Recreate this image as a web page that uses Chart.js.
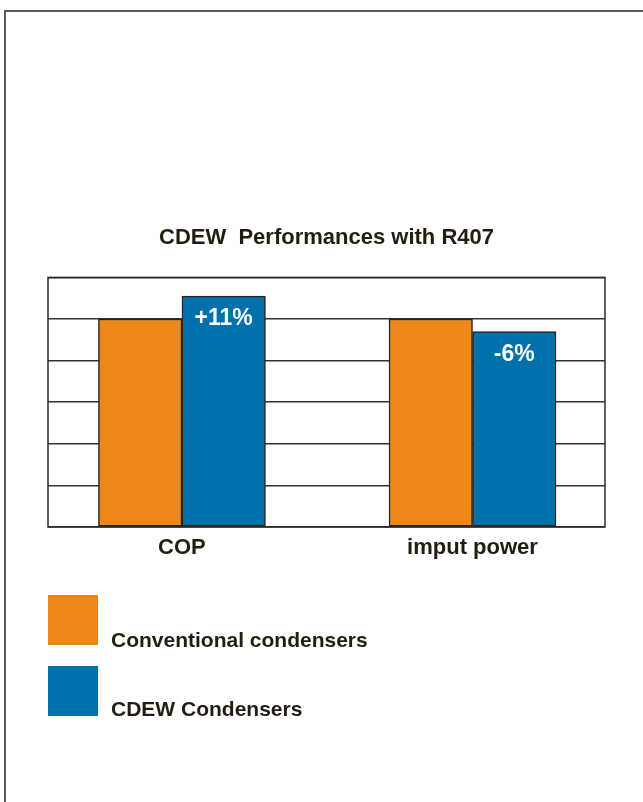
<!DOCTYPE html>
<html>
<head>
<meta charset="utf-8">
<script src="https://cdn.jsdelivr.net/npm/chart.js@4/dist/chart.umd.min.js"></script>
<style>
  html, body { margin: 0; padding: 0; background: #fff; }
  body { width: 643px; height: 802px; position: relative; overflow: hidden; font-family: "Liberation Sans", Arial, sans-serif; }
  .frame { position: absolute; left: 4px; top: 10px; width: 700px; height: 900px; border-left: 2px solid #5c5c5c; border-top: 2px solid #5c5c5c; }
  #chart { position: absolute; left: 0; top: 0; }
  .legend-item { position: absolute; left: 48px; height: 50px; }
  .legend-item .box { position: absolute; left: 0; top: 0; width: 50px; height: 50px; }
  .legend-item .label { position: absolute; left: 63px; white-space: nowrap; font-weight: bold; font-size: 21px; color: #221d0e; }
</style>
</head>
<body>
<div class="frame"></div>
<canvas id="chart" width="643" height="802"></canvas>
<div id="legend"></div>
<script>
const categories = ['COP', 'imput power'];
const seriesNames = ['Conventional condensers', 'CDEW Condensers'];
const conventional = [100, 100];
const cdew = [111, 94];
const cdewLabels = ['+11%', '-6%'];
const yTicks = [0, 20, 40, 60, 80, 100, 120];
const colors = ['#ED8818', '#0071AA'];
const textColor = '#221d0e';
const fontFamily = '"Liberation Sans", Arial, sans-serif';

document.addEventListener('DOMContentLoaded', function () {
  const legend = document.getElementById('legend');
  seriesNames.forEach((name, i) => {
    const item = document.createElement('div');
    item.className = 'legend-item';
    item.style.top = (595 + i * 71) + 'px';
    item.innerHTML = '<div class="box" style="background:' + colors[i] + '"></div>' +
      '<div class="label" style="top:' + (33 - i * 2) + 'px">' + name + '</div>';
    legend.appendChild(item);
  });

  const frameBox = {
    id: 'frameBox',
    afterDatasetsDraw(chart) {
      const { ctx, chartArea } = chart;
      ctx.save();
      ctx.strokeStyle = '#2b2b2b';
      ctx.lineWidth = 1.5;
      ctx.strokeRect(chartArea.left, chartArea.top, chartArea.right - chartArea.left, chartArea.bottom - chartArea.top);
      // percentage labels inside the CDEW bars
      const meta = chart.getDatasetMeta(1);
      ctx.fillStyle = '#fff';
      ctx.font = 'bold 23px ' + fontFamily;
      ctx.textAlign = 'center';
      ctx.textBaseline = 'middle';
      meta.data.forEach((bar, i) => {
        ctx.fillText(cdewLabels[i], bar.x, bar.y + 23);
      });
      ctx.restore();
    }
  };

  const toPoints = (values) => values.map((v, i) => ({ x: i, y: v }));

  new Chart(document.getElementById('chart'), {
    type: 'bar',
    data: {
      datasets: [
        { label: seriesNames[0], data: toPoints(conventional), backgroundColor: colors[0], borderColor: '#2a2418', borderWidth: 1.5, borderSkipped: false, barThickness: 83.5 },
        { label: seriesNames[1], data: toPoints(cdew), backgroundColor: colors[1], borderColor: '#2a2418', borderWidth: 1.5, borderSkipped: false, barThickness: 83.5 }
      ]
    },
    options: {
      responsive: false,
      animation: false,
      layout: { padding: { left: 48, right: 38, top: 225, bottom: 235 } },
      plugins: {
        legend: { display: false },
        tooltip: { enabled: false },
        title: {
          display: true,
          text: 'CDEW  Performances with R407',
          color: textColor,
          font: { family: fontFamily, size: 22, weight: 'bold' },
          padding: { top: 0, bottom: 26 }
        }
      },
      scales: {
        x: {
          type: 'linear',
          offset: false,
          min: -0.461,
          max: 1.456,
          afterBuildTicks: (s) => { s.ticks = categories.map((c, i) => ({ value: i })); },
          grid: { display: false, drawTicks: false },
          border: { display: false },
          ticks: {
            color: textColor,
            padding: 8,
            autoSkip: false,
            maxRotation: 0,
            font: { family: fontFamily, size: 22, weight: 'bold' },
            callback: (v) => categories[v]
          },
          afterFit: (s) => { s.height = 40; }
        },
        y: {
          min: yTicks[0],
          max: yTicks[yTicks.length - 1],
          afterBuildTicks: (s) => { s.ticks = yTicks.map((v) => ({ value: v })); },
          grid: { color: '#333', lineWidth: 1.5, drawTicks: false },
          border: { display: false },
          ticks: { display: false },
          afterFit: (s) => { s.width = 0; }
        }
      }
    },
    plugins: [frameBox]
  });
});
</script>
</body>
</html>
